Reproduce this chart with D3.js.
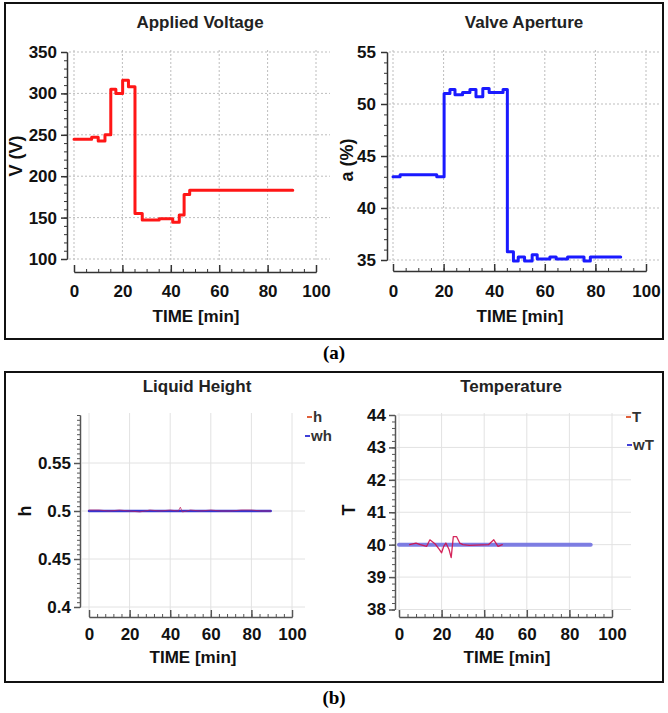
<!DOCTYPE html>
<html>
<head>
<meta charset="utf-8">
<script src="https://cdn.jsdelivr.net/npm/d3@7"></script>
<style>
body { margin: 0; background: #fff; }
svg text { font-family: "Liberation Sans", Arial, sans-serif; }
</style>
</head>
<body>
<svg width="668" height="713"></svg>
<script>
// ---- data ----
const voltTime  = [0, 7.3, 10, 12.8, 15.2, 17.3, 20.1, 22.5, 25.2, 28.2, 35.2, 40.8, 43.5, 45.5, 47.8, 90.4];
const voltValue = [244.5, 247, 242.5, 250, 305, 300, 316, 308, 155, 147, 148.5, 144.5, 153, 178, 183, 183];

const valveTime  = [0, 2.8, 17.3, 20.2, 22.5, 24.5, 27.5, 30.4, 32.8, 35.5, 38, 43.5, 45.2, 47.6, 49.5, 52, 55, 57, 62, 64.5, 69, 75.5, 78, 90];
const valveValue = [43.0, 43.2, 43.0, 51.0, 51.4, 50.9, 51.1, 51.4, 50.7, 51.5, 51.1, 51.4, 35.8, 34.9, 35.3, 34.9, 35.5, 35.1, 35.3, 35.1, 35.3, 34.9, 35.3, 35.3];

const hTime  = [0, 5, 10, 15, 20, 25, 30, 35, 40, 44, 45, 46, 50, 55, 60, 65, 70, 75, 80, 85, 89.5];
const hValue = [0.501, 0.501, 0.5, 0.501, 0.5, 0.499, 0.501, 0.5, 0.501, 0.5, 0.504, 0.499, 0.501, 0.5, 0.501, 0.5, 0.5, 0.501, 0.501, 0.5, 0.5];
const whTime  = [0, 89.5];
const whValue = [0.5, 0.5];

const tempTime  = [5, 8, 10, 13, 14.5, 17, 19, 20, 21, 22, 23.5, 24.5, 25.5, 27, 28.5, 30, 33, 42, 44.5, 46.5, 48.5];
const tempValue = [40, 40.05, 40, 39.95, 40.15, 40.02, 39.85, 39.75, 39.95, 40.05, 39.85, 39.6, 40.25, 40.25, 40.05, 40, 39.98, 40, 40.15, 39.95, 40];
const wTTime  = [0, 90];
const wTValue = [40, 40];

const xTicks = [0, 20, 40, 60, 80, 100];
const voltTicks = [100, 150, 200, 250, 300, 350];
const valveTicks = [35, 40, 45, 50, 55];
const hTicks = [0.4, 0.45, 0.5, 0.55];
const tempTicks = [38, 39, 40, 41, 42, 43, 44];

const svg = d3.select("svg");

// panel frames and captions
svg.append("rect").attr("x", 5).attr("y", 3).attr("width", 658).attr("height", 336)
    .attr("fill", "none").attr("stroke", "#111").attr("stroke-width", 2);
svg.append("rect").attr("x", 5).attr("y", 372).attr("width", 658).attr("height", 310)
    .attr("fill", "none").attr("stroke", "#111").attr("stroke-width", 2);
svg.append("text").attr("x", 334).attr("y", 359).attr("text-anchor", "middle")
    .style("font-family", "'Liberation Serif', 'Times New Roman', serif")
    .style("font-weight", "bold").style("font-size", "19px").text("(a)");
svg.append("text").attr("x", 334).attr("y", 704).attr("text-anchor", "middle")
    .style("font-family", "'Liberation Serif', 'Times New Roman', serif")
    .style("font-weight", "bold").style("font-size", "19px").text("(b)");

// draws frame of one small chart: grid, axes, labels
function drawChart(c) {
    const g = svg.append("g");
    const [yBot, yTop] = c.y.range();

    // grid
    const grid = g.append("g")
        .attr("stroke", c.gridColor)
        .attr("stroke-width", 1)
        .attr("stroke-dasharray", c.dash);
    grid.selectAll(".vg").data(xTicks).join("line")
        .attr("x1", d => c.x(d)).attr("x2", d => c.x(d))
        .attr("y1", yTop - 2).attr("y2", yBot + 3);
    grid.selectAll(".hg").data(c.yTicks).join("line")
        .attr("x1", c.yAxisX + 2).attr("x2", c.gridRight)
        .attr("y1", d => c.y(d)).attr("y2", d => c.y(d));

    // y axis (minor + major)
    const yMinor = d3.range(c.y.domain()[0], c.y.domain()[1] + c.yMinorStep / 2, c.yMinorStep);
    g.append("g").attr("transform", `translate(${c.yAxisX},0)`)
        .call(d3.axisLeft(c.y).tickValues(yMinor).tickSize(3).tickFormat("").tickSizeOuter(0))
        .call(a => a.selectAll("line, path").attr("stroke", c.axisColor));
    g.append("g").attr("transform", `translate(${c.yAxisX},0)`)
        .call(d3.axisLeft(c.y).tickValues(c.yTicks).tickSize(6).tickPadding(c.yPad)
            .tickFormat(c.yFormat).tickSizeOuter(0))
        .call(a => a.selectAll("line, path").attr("stroke", c.axisColor).attr("stroke-width", 1.5))
        .call(a => a.selectAll("text").attr("fill", "#111")
            .style("font-size", "17px").style("font-weight", "bold"));

    // x axis, ticks pointing up
    const xMinor = d3.range(0, 100.1, c.xMinorStep);
    g.append("g").attr("transform", `translate(0,${c.xAxisY})`)
        .call(d3.axisBottom(c.x).tickValues(xMinor).tickSize(-3).tickFormat("").tickSizeOuter(0))
        .call(a => a.selectAll("line, path").attr("stroke", c.axisColor));
    g.append("g").attr("transform", `translate(0,${c.xAxisY})`)
        .call(d3.axisBottom(c.x).tickValues(xTicks).tickSize(-7).tickPadding(c.xPad).tickSizeOuter(0))
        .call(a => a.selectAll("line, path").attr("stroke", c.axisColor).attr("stroke-width", 1.5))
        .call(a => a.selectAll("text").attr("fill", "#111")
            .style("font-size", "17px").style("font-weight", "bold"));

    // title and axis labels
    g.append("text").attr("x", c.titleX).attr("y", c.titleY).attr("text-anchor", "middle")
        .attr("fill", "#222").style("font-size", "17px").style("font-weight", "bold").text(c.title);
    g.append("text").attr("x", c.titleX - 4).attr("y", c.xlabelY).attr("text-anchor", "middle")
        .attr("fill", "#111").style("font-size", "17px").style("font-weight", "bold").text("TIME [min]");
    g.append("text")
        .attr("transform", `translate(${c.ylabelX},${c.ylabelY}) rotate(-90)`)
        .attr("text-anchor", "middle").attr("dy", "0.35em")
        .attr("fill", "#111").style("font-size", "18px").style("font-weight", "bold").text(c.ylabel);
    return g;
}

function drawLine(g, x, y, times, values, curve, color, width, opacity) {
    const line = d3.line().x(d => x(d[0])).y(d => y(d[1])).curve(curve);
    g.append("path").datum(d3.zip(times, values))
        .attr("d", line).attr("fill", "none")
        .attr("stroke", color).attr("stroke-width", width)
        .attr("stroke-opacity", opacity)
        .attr("stroke-linejoin", "round").attr("stroke-linecap", "round");
}

function drawLegend(g, x, y, label, color) {
    g.append("line").attr("x1", x).attr("x2", x + 5).attr("y1", y).attr("y2", y)
        .attr("stroke", color).attr("stroke-width", 2);
    g.append("text").attr("x", x + 6).attr("y", y).attr("dy", "0.35em")
        .attr("fill", "#333").style("font-size", "15px").style("font-weight", "bold").text(label);
}

// (a) Applied Voltage
const xV = d3.scaleLinear().domain([0, 100]).range([74, 316]);
const yV = d3.scaleLinear().domain([100, 350]).range([259, 52]);
const gV = drawChart({
    x: xV, y: yV, yTicks: voltTicks, yMinorStep: 10, xMinorStep: 5,
    yAxisX: 67, xAxisY: 272, gridRight: 330, gridColor: "#bdbdbd", dash: "2,2",
    axisColor: "#333", yPad: 4, xPad: 13, yFormat: d3.format("d"),
    title: "Applied Voltage", titleX: 200, titleY: 28, xlabelY: 322,
    ylabel: "V (V)", ylabelX: 16, ylabelY: 156
});
drawLine(gV, xV, yV, voltTime, voltValue, d3.curveStepAfter, "#ff1616", 3, 1);

// (a) Valve Aperture
const xA = d3.scaleLinear().domain([0, 100]).range([393, 646]);
const yA = d3.scaleLinear().domain([35, 55]).range([260, 52]);
const gA = drawChart({
    x: xA, y: yA, yTicks: valveTicks, yMinorStep: 1, xMinorStep: 5,
    yAxisX: 387, xAxisY: 271, gridRight: 659, gridColor: "#bdbdbd", dash: "2,2",
    axisColor: "#333", yPad: 5, xPad: 14, yFormat: d3.format("d"),
    title: "Valve Aperture", titleX: 524, titleY: 28, xlabelY: 322,
    ylabel: "a (%)", ylabelX: 347, ylabelY: 160
});
drawLine(gA, xA, yA, valveTime, valveValue, d3.curveStepAfter, "#1a1aff", 3, 1);

// (b) Liquid Height
const xH = d3.scaleLinear().domain([0, 100]).range([89, 292]);
const yH = d3.scaleLinear().domain([0.4, 0.6]).range([607, 415]);
const gH = drawChart({
    x: xH, y: yH, yTicks: hTicks, yMinorStep: 0.005, xMinorStep: 4,
    yAxisX: 80, xAxisY: 617, gridRight: 305, gridColor: "#e2e2e2", dash: null,
    axisColor: "#555", yPad: 3, xPad: 11, yFormat: d => d3.format("")(+d.toFixed(2)),
    title: "Liquid Height", titleX: 197, titleY: 392, xlabelY: 663,
    ylabel: "h", ylabelX: 25, ylabelY: 511
});
drawLine(gH, xH, yH, whTime, whValue, d3.curveLinear, "#3535d0", 2.5, 1);
drawLine(gH, xH, yH, hTime, hValue, d3.curveLinear, "#c0205a", 1, 0.7);
drawLegend(gH, 307, 417, "h", "#e0603a");
drawLegend(gH, 305, 436, "wh", "#4040d8");

// (b) Temperature
const xT = d3.scaleLinear().domain([0, 100]).range([399, 612]);
const yT = d3.scaleLinear().domain([38, 44]).range([609.5, 415]);
const gT = drawChart({
    x: xT, y: yT, yTicks: tempTicks, yMinorStep: 0.2, xMinorStep: 4,
    yAxisX: 395, xAxisY: 617, gridRight: 631, gridColor: "#e2e2e2", dash: null,
    axisColor: "#555", yPad: 3, xPad: 11, yFormat: d3.format("d"),
    title: "Temperature", titleX: 511, titleY: 392, xlabelY: 663,
    ylabel: "T", ylabelX: 349, ylabelY: 510
});
drawLine(gT, xT, yT, wTTime, wTValue, d3.curveLinear, "#7070e0", 4, 0.9);
drawLine(gT, xT, yT, tempTime, tempValue, d3.curveLinear, "#d0104a", 1.3, 0.9);
drawLegend(gT, 626, 417, "T", "#e0603a");
drawLegend(gT, 627, 445, "wT", "#4040d8");
</script>
</body>
</html>
